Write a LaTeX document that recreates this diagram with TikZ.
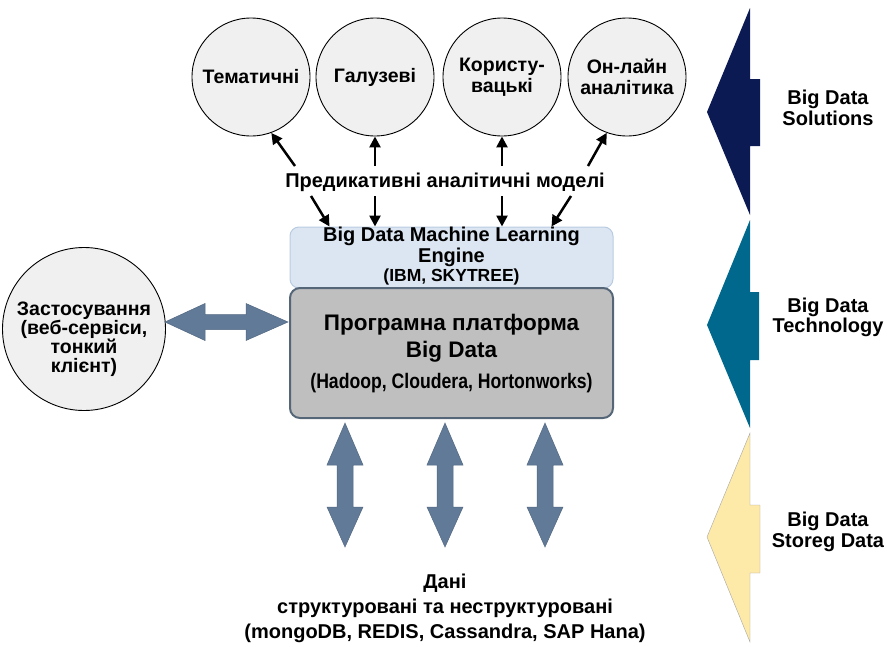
\documentclass[tikz,border=0pt]{standalone}
\usepackage{fontspec}
\setmainfont{Liberation Sans}
\newfontfamily\narrowfont[FakeStretch=0.84]{Liberation Sans}
\usetikzlibrary{arrows.meta,calc}
\definecolor{circfill}{RGB}{240,240,240}
\definecolor{mlfill}{RGB}{220,230,242}
\definecolor{mlborder}{RGB}{185,203,225}
\definecolor{platfill}{RGB}{191,191,191}
\definecolor{platborder}{RGB}{85,102,120}
\definecolor{bigarrow}{RGB}{96,122,152}
\definecolor{navychev}{RGB}{12,26,84}
\definecolor{tealchev}{RGB}{0,104,140}
\definecolor{yellowchev}{RGB}{253,233,168}
\begin{document}
\begin{tikzpicture}[x=1pt,y=-1pt,
  circ/.style={circle, draw=black, line width=0.9pt, fill=circfill, minimum size=118pt, inner sep=0pt, align=center, font=\bfseries\fontsize{19.5}{21.5}\selectfont},
  txt/.style={align=center, inner sep=0pt, font=\bfseries\fontsize{20}{20.5}\selectfont},
  thinarrow/.style={line width=2.5pt, -{Triangle[length=11pt,width=11pt]}},
  bigarr/.style={fill=bigarrow, draw=bigarrow!85!black, line width=0.5pt},
  chev/.style={line width=0.4pt}
]
\useasboundingbox (0,0) rectangle (887,646);

% top circles
\node[circ] (c1) at (251,77) {Тематичні};
\node[circ] (c2) at (375,77) {Галузеві};
\node[circ] (c3) at (502,77) {Користу-\\вацькі};
\node[circ] (c4) at (627,77) {Он-лайн\\аналітика};

% predicative models label
\node[txt] (pred) at (445,182) {Предикативні аналітичні моделі};

% ML engine box
\node[draw=mlborder, fill=mlfill, line width=1pt, rounded corners=9pt, minimum width=323pt, minimum height=61pt, inner sep=0pt] (ml) at (451.5,257.5) {};
\node[txt] (mltext) at (451.5,256) {Big Data Machine Learning\\Engine\\[-1.5pt]\fontsize{17.5}{18}\selectfont(IBM, SKYTREE)};

% platform box
\node[draw=platborder, fill=platfill, line width=2pt, rounded corners=10pt, minimum width=323pt, minimum height=130pt, inner sep=0pt] (plat) at (451.5,353) {};
\node[txt, font=\bfseries\fontsize{22.5}{27}\selectfont] (plattitle) at (451.5,338) {Програмна платформа\\Big Data};
\node[inner sep=0pt, font=\narrowfont\bfseries\fontsize{21}{22}\selectfont] (platsub) at (451.5,383) {(Hadoop, Cloudera, Hortonworks)};

% left circle
\node[circ, minimum size=163pt] (app) at (84,329) {};
\node[txt, font=\bfseries\fontsize{19.5}{18.5}\selectfont] (apptext) at (84,339) {Застосування\\(веб-сервіси,\\тонкий\\клієнт)};

% thin arrows up
\coordinate (u1) at (295,166);
\coordinate (u2) at (375,166);
\coordinate (u3) at (502,166);
\coordinate (u4) at (588,166);
\draw[thinarrow] (u1) -- (c1.-70);
\draw[thinarrow] (u2) -- (c2.south);
\draw[thinarrow] (u3) -- (c3.south);
\draw[thinarrow] (u4) -- (c4.-110);

% thin arrows down
\coordinate (d1) at (311,196);
\coordinate (d2) at (375,196);
\coordinate (d3) at (502,196);
\coordinate (d4) at (571,196);
\draw[thinarrow] (d1) -- ($(ml.north west)+(40,0)$);
\draw[thinarrow] (d2) -- (d2 |- ml.north);
\draw[thinarrow] (d3) -- (d3 |- ml.north);
\draw[thinarrow] (d4) -- ($(ml.north west)+(262,0)$);

% big horizontal double arrow
\draw[bigarr] (165,322) -- (205,303.5) -- (205,314.5) -- (246,314.5) -- (246,303.5) -- (288,322)
  -- (246,340.5) -- (246,329.5) -- (205,329.5) -- (205,340.5) -- cycle;

% big vertical double arrows
\foreach \xx/\nm in {345/v1,445/v2,545/v3}{
  \draw[bigarr] (\xx,423) -- (\xx+18,465) -- (\xx+8,465) -- (\xx+8,507) -- (\xx+18,507) -- (\xx,547)
    -- (\xx-18,507) -- (\xx-8,507) -- (\xx-8,465) -- (\xx-18,465) -- cycle;
}

% data label
\node[txt, font=\bfseries\fontsize{20}{25}\selectfont] (data) at (445,608) {Дані\\структуровані та неструктуровані\\(mongoDB, REDIS, Cassandra, SAP Hana)};

% right chevrons
\fill[navychev] (750,8) -- (750,79) -- (760,79) -- (760,146) -- (750,146) -- (750,215) -- (707,112) -- cycle;
\fill[tealchev] (750,220) -- (750,292) -- (759,292) -- (759,360) -- (750,360) -- (750,428) -- (707,325) -- cycle;
\draw[chev, fill=yellowchev, draw=black!35] (750,433) -- (750,505) -- (760,505) -- (760,573) -- (750,573) -- (750,642) -- (707,537) -- cycle;

\node[txt] (sol) at (828,108) {Big Data\\Solutions};
\node[txt] (tech) at (828,317.5) {Big Data\\Technology};
\node[txt] (stor) at (828,532) {Big Data\\Storeg Data};
\end{tikzpicture}
\end{document}
